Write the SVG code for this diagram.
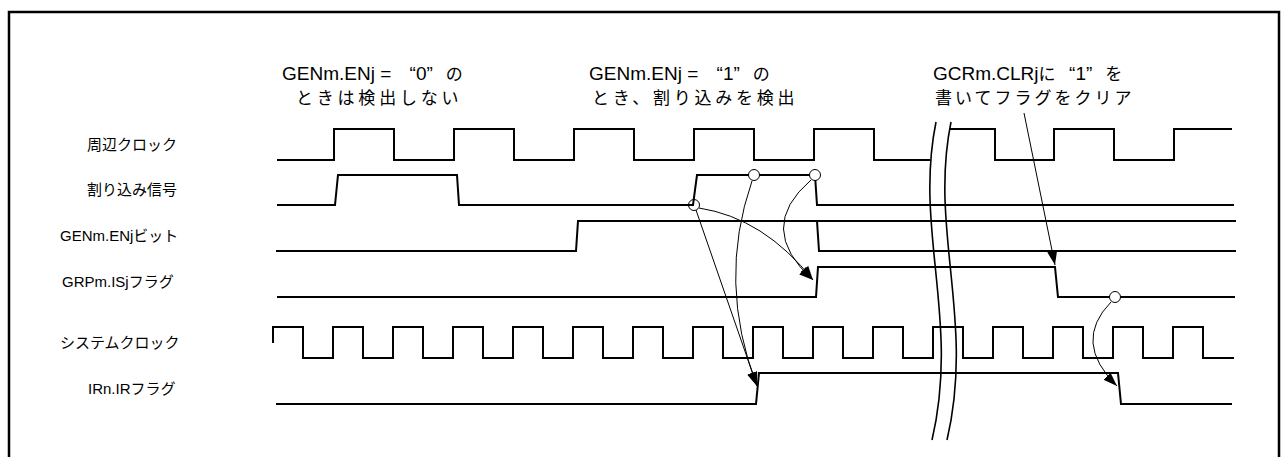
<svg xmlns="http://www.w3.org/2000/svg" width="1282" height="457" viewBox="0 0 1282 457">
<style>
.wave{fill:none;stroke:#000;stroke-width:2;stroke-linejoin:miter}
.brk{fill:none;stroke:#000;stroke-width:1.6}
.conn{fill:none;stroke:#000;stroke-width:1}
.dot{fill:#fff;stroke:#000;stroke-width:1}
.lbl{font-family:"Liberation Sans","Noto Sans CJK JP",sans-serif;font-size:15px;fill:#000}
.ann{font-family:"Liberation Sans","Noto Sans CJK JP",sans-serif;font-size:19px;fill:#000}
.cjk{font-family:"Noto Sans CJK JP",sans-serif;font-size:17px;letter-spacing:3.5px}
</style>
<defs>
<marker id="ah" markerUnits="userSpaceOnUse" markerWidth="16" markerHeight="12" refX="14" refY="5" orient="auto"><path d="M0,0 L14,5 L0,10 z" fill="#000"/></marker>
</defs>
<rect x="9" y="12" width="1270" height="460" fill="#fff" stroke="#000" stroke-width="2.5"/>

<g id="labels">
<text class="lbl" x="87" y="150">周辺クロック</text>
<text class="lbl" x="87" y="195">割り込み信号</text>
<text class="lbl" x="60" y="241">GENm.ENjビット</text>
<text class="lbl" x="62" y="287">GRPm.ISjフラグ</text>
<text class="lbl" x="60" y="348">システムクロック</text>
<text class="lbl" x="88" y="394">IRn.IRフラグ</text>
</g>

<g id="annotations">
<text class="ann" x="282" y="80">GENm.ENj = <tspan dx="13">“0”</tspan><tspan class="cjk" dx="13">の</tspan></text>
<text class="ann cjk" x="296" y="104" textLength="166" lengthAdjust="spacing">ときは検出しない</text>
<text class="ann" x="589" y="80">GENm.ENj = <tspan dx="13">“1”</tspan><tspan class="cjk" dx="13">の</tspan></text>
<text class="ann cjk" x="592" y="104" textLength="206" lengthAdjust="spacing">とき、割り込みを検出</text>
<text class="ann" x="933" y="80">GCRm.CLRj<tspan class="cjk">に</tspan><tspan dx="10">“1”</tspan><tspan class="cjk" dx="13">を</tspan></text>
<text class="ann cjk" x="935" y="104" textLength="200" lengthAdjust="spacing">書いてフラグをクリア</text>
</g>

<g id="waveforms">
<path id="pclk" class="wave" d="M277,160 H334 V129 H394 V160 H454 V129 H514 V160 H574 V129 H634 V160 H694 V129 H754 V160 H814 V129 H874 V160 H930 M949,129 H995 V160 H1054 V129 H1114 V160 H1174 V129 H1232"/>
<path id="irq" class="wave" d="M277,205 H335 L338,175 H457 L459,205 H693 L697,175 H815 L817,205 H1234"/>
<path id="genm" class="wave" d="M276,251 H576 L578,221 H1236 M817,221 L819,251 H1236"/>
<path id="grpm" class="wave" d="M277,297 H816 L818,267 H1055 L1058,297 H1235"/>
<path id="sclk" class="wave" d="M273,343 V327 H303 V358 H333 V327 H363 V358 H393 V327 H423 V358 H453 V327 H483 V358 H513 V327 H543 V358 H573 V327 H603 V358 H633 V327 H663 V358 H693 V327 H723 V358 H753 V327 H783 V358 H813 V327 H843 V358 H873 V327 H903 V358 H933 V327 H963 V358 H993 V327 H1023 V358 H1053 V327 H1083 V358 H1113 V327 H1143 V358 H1173 V327 H1203 V358 H1234"/>
<path id="irn" class="wave" d="M276,404 H756 L759,373 H1118 L1121,404 H1232"/>
</g>

<g id="break">
<path class="brk" d="M936,122 C914,230 960,320 932,440"/>
<path class="brk" d="M951,122 C929,230 975,320 947,440"/>
</g>

<g id="connectors">
<path class="conn" d="M696,210 L757,386" marker-end="url(#ah)"/>
<path class="conn" d="M752,181 Q717,282 757,386" marker-end="url(#ah)"/>
<path class="conn" d="M699,208 Q764,218 813,280" marker-end="url(#ah)"/>
<path class="conn" d="M811,180 Q755,228 813,280" marker-end="url(#ah)"/>
<path class="conn" d="M1111,302 Q1072,342 1117,386" marker-end="url(#ah)"/>
<path class="conn" d="M1024,113 L1055,265" marker-end="url(#ah)"/>
<circle class="dot" cx="694" cy="205" r="5.5" style="fill:none"/>
<circle class="dot" cx="754" cy="175" r="5.5"/>
<circle class="dot" cx="815" cy="175" r="5.5"/>
<circle class="dot" cx="1115" cy="297" r="5.5"/>
</g>
</svg>
